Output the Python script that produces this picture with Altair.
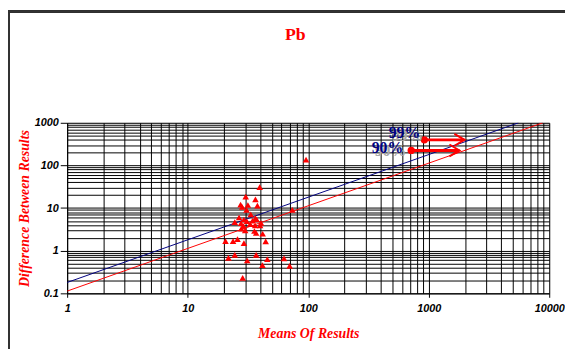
import altair as alt
import pandas as pd

# ---- data ----
mean_x = [39.6, 30.3, 36.5, 27.5, 28.4, 31.6, 37.9, 30.8, 73.8, 26.7, 33.4, 36.5,
          24.6, 29.3, 31.0, 34.5, 37.4, 40.6, 27.7, 29.1, 33.0, 36.3, 39.9, 27.9,
          30.0, 35.8, 37.0, 41.9, 20.6, 23.8, 25.9, 29.3, 44.4, 21.8, 24.6, 31.2,
          37.0, 45.8, 63.0, 41.7, 70.2, 28.6, 96.0]
diff_y = [30.9, 18.5, 16.0, 12.1, 10.6, 11.8, 11.4, 9.1, 9.1, 6.0, 7.1, 5.8,
          4.7, 5.4, 4.9, 5.05, 5.4, 4.5, 4.4, 3.8, 4.2, 3.9, 3.9, 3.3,
          3.0, 2.9, 2.6, 2.5, 1.68, 1.68, 1.87, 1.51, 1.65, 0.68, 0.80, 0.59,
          0.80, 0.63, 0.66, 0.46, 0.44, 0.23, 137]

line99_x = [1, 5560]
line99_y = [0.18, 1000]
line90_x = [1, 8850]
line90_y = [0.113, 1000]

ann_label = ["99%", "90%"]
ann_text_x = [850, 615]
ann_text_y = [560, 250]
ann_dot_x = [920, 716]
ann_tip_x = [1980, 1800]
ann_y = [398, 225]

x_major = [1, 10, 100, 1000, 10000]
y_major = [0.1, 1, 10, 100, 1000]

x_grid = [m * d for d in x_major[:-1] for m in range(1, 10)] + [x_major[-1]]
y_grid = [m * d for d in y_major[:-1] for m in range(1, 10)] + [y_major[-1]]

pts = pd.DataFrame({"x": mean_x, "y": diff_y})
lines = pd.DataFrame({
    "x": line99_x + line90_x,
    "y": line99_y + line90_y,
    "s": ["99"] * 2 + ["90"] * 2,
})
ann = pd.DataFrame({"label": ann_label, "tx": ann_text_x, "ty": ann_text_y,
                    "dx": ann_dot_x, "tip": ann_tip_x, "y": ann_y})

xscale = alt.Scale(type="log", domain=[1, 10000])
yscale = alt.Scale(type="log", domain=[0.1, 1000])

xmaj = "indexof([1,10,100,1000,10000], datum.value) >= 0"
ymaj = "indexof([0.1,1,10,100,1000], datum.value) >= 0"

xaxis = alt.Axis(values=x_grid, title="Means Of Results", format="~g",
                 labelExpr=f"{xmaj} ? datum.label : ''",
                 tickOpacity={"condition": {"test": xmaj, "value": 1}, "value": 0},
                 tickSize=4, tickColor="black",
                 grid=True, gridColor="black", gridWidth=1, gridOpacity=1,
                 domainColor="black",
                 labelFont="Liberation Sans", labelFontSize=11, labelFontWeight="bold",
                 labelFontStyle="italic", labelColor="black", labelPadding=5,
                 labelFlush=False, labelOverlap=False, labelBound=False,
                 titleFont="Liberation Serif", titleFontSize=14, titleFontWeight="bold",
                 titleFontStyle="italic", titleColor="#ff0000", titlePadding=14)
yaxis = alt.Axis(values=y_grid, title="Difference Between Results", format="~g",
                 labelExpr=f"{ymaj} ? datum.label : ''",
                 tickOpacity={"condition": {"test": ymaj, "value": 1}, "value": 0},
                 tickSize=7, tickColor="black",
                 grid=True, gridColor="black", gridWidth=1, gridOpacity=1,
                 domainColor="black",
                 labelFont="Liberation Sans", labelFontSize=11, labelFontWeight="bold",
                 labelFontStyle="italic", labelColor="black", labelPadding=2,
                 labelFlush=False, labelOverlap=False, labelBound=False,
                 titleFont="Liberation Serif", titleFontSize=14, titleFontWeight="bold",
                 titleFontStyle="italic", titleColor="#ff0000", titlePadding=3)

points = alt.Chart(pts).mark_point(shape="triangle-up", filled=True, color="#ff0000",
                                   size=44, opacity=1).encode(
    x=alt.X("x:Q", scale=xscale, axis=xaxis),
    y=alt.Y("y:Q", scale=yscale, axis=yaxis),
)

fit = alt.Chart(lines).mark_line(strokeWidth=1, clip=True).encode(
    x=alt.X("x:Q", scale=xscale),
    y=alt.Y("y:Q", scale=yscale),
    detail="s:N",
    color=alt.Color("s:N", scale=alt.Scale(domain=["99", "90"], range=["#000080", "#ff0000"]),
                    legend=None),
)

shaft = alt.Chart(ann).mark_rule(color="#ff0000", strokeWidth=3).encode(
    x=alt.X("dx:Q", scale=xscale), x2="tip:Q", y=alt.Y("y:Q", scale=yscale))
dots = alt.Chart(ann).mark_point(shape="circle", filled=True, color="#ff0000",
                                 size=55, opacity=1).encode(
    x=alt.X("dx:Q", scale=xscale), y=alt.Y("y:Q", scale=yscale))
heads = alt.Chart(ann).mark_point(shape="M -1.7 -1 L 0 0 L -1.7 1", filled=False,
                                  color="#ff0000", size=144, strokeWidth=2,
                                  opacity=1).encode(
    x=alt.X("tip:Q", scale=xscale), y=alt.Y("y:Q", scale=yscale))
shadow = alt.Chart(ann).mark_text(font="Liberation Serif", fontSize=16, fontWeight="bold",
                                  align="right", baseline="middle", color="#a8a8a8",
                                  dx=3, dy=3).encode(
    x=alt.X("tx:Q", scale=xscale), y=alt.Y("ty:Q", scale=yscale), text="label:N")
labels = alt.Chart(ann).mark_text(font="Liberation Serif", fontSize=16, fontWeight="bold",
                                  align="right", baseline="middle", color="#000080").encode(
    x=alt.X("tx:Q", scale=xscale), y=alt.Y("ty:Q", scale=yscale), text="label:N")

frame_left = alt.Chart(pts).mark_rule(color="#333333", strokeWidth=1.5).encode(
    x=alt.value(-59), y=alt.value(-113), y2=alt.value(240))
frame_top = alt.Chart(pts).mark_rule(color="#333333", strokeWidth=1.5).encode(
    x=alt.value(-60), x2=alt.value(520), y=alt.value(-113))

chart = alt.layer(
    fit, points, shaft, dots, heads, shadow, labels, frame_left, frame_top
).properties(
    width=489, height=173,
    title=alt.TitleParams("Pb", font="Liberation Serif", fontSize=18, fontWeight="bold",
                          color="#ff0000", anchor="middle", frame="group", dx=-13,
                          baseline="bottom", offset=0, dy=52),
    autosize=alt.AutoSizeParams(type="none"),
    padding={"left": 60, "top": 114, "right": 16, "bottom": 54},
).configure_view(stroke="black", strokeWidth=1).configure(background="white")

chart.save("out.html", embed_options={"renderer": "svg", "actions": False})
